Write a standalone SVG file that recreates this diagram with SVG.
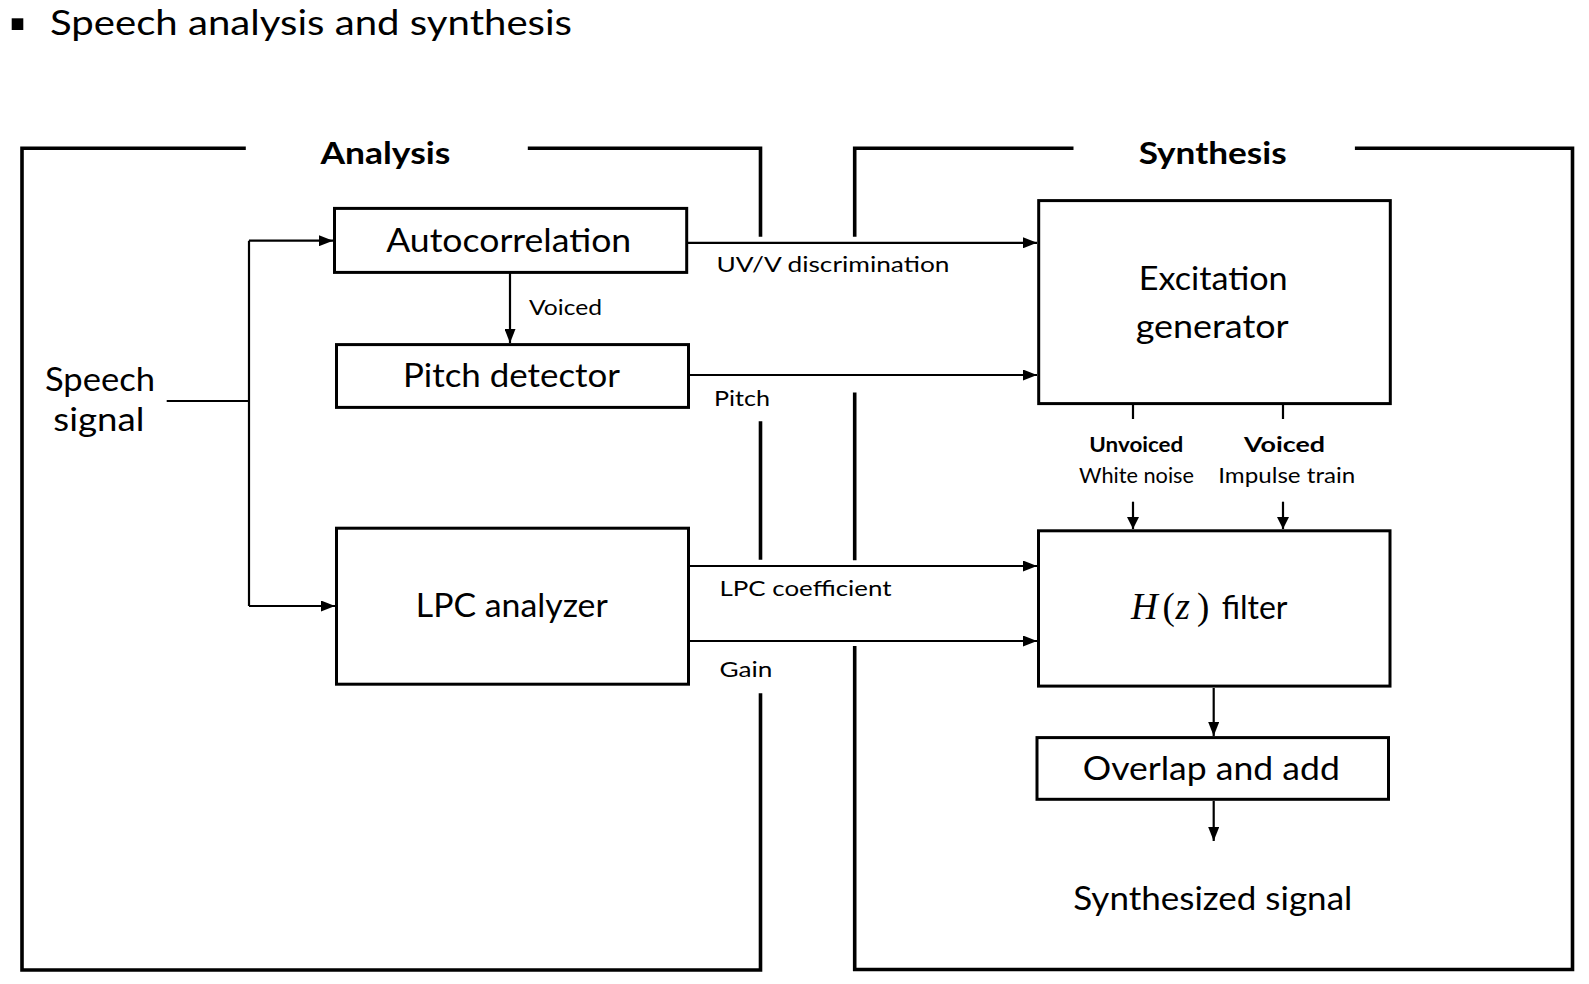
<svg xmlns="http://www.w3.org/2000/svg" width="1589" height="984" viewBox="0 0 1589 984">
  <style>
    text { font-family: Lato, "Open Sans", "Liberation Sans", sans-serif; fill: #000; }
    .title { font-size: 35px; }
    .box { fill: #fff; stroke: #000; stroke-width: 3; }
    .frame { fill: none; stroke: #000; stroke-width: 3.6; stroke-linecap: square; }
    .lbl { font-size: 32px; text-anchor: start; }
    .big { font-size: 33px; }
    .sec { font-size: 30px; font-weight: bold; }
    .small { font-size: 22px; }
    .tiny { font-size: 21px; }
    .tinyb { font-size: 20.5px; font-weight: bold; }
    .math { font-family: "Liberation Serif", "DejaVu Serif", serif; font-size: 37px; }
    .conn { fill: none; stroke: #000; stroke-width: 2.2; }
  </style>
  <defs>
    <marker id="arrow" viewBox="0 0 14 11" refX="14" refY="5.5" markerWidth="14" markerHeight="11" markerUnits="userSpaceOnUse" orient="auto">
      <path d="M0,0 L14,5.5 L0,11 z" fill="#000"/>
    </marker>
    <marker id="arrowS" viewBox="0 0 12 12" refX="12" refY="6" markerWidth="12" markerHeight="12" markerUnits="userSpaceOnUse" orient="auto">
      <path d="M0,0 L12,6 L0,12 z" fill="#000"/>
    </marker>
  </defs>
  <rect width="1589" height="984" fill="#fff"/>

  <g id="title">
    <rect x="11.7" y="18.3" width="11.6" height="11.7" fill="#000"/>
    <text class="title" x="50" y="35" textLength="522" lengthAdjust="spacingAndGlyphs">Speech analysis and synthesis</text>
  </g>

  <g id="frames">
    <path class="frame" d="M244,148.3 H22 V970 H760.5 V695"/>
    <path class="frame" d="M760.5,558 V423"/>
    <path class="frame" d="M529.6,148.3 H760.5 V235"/>
    <path class="frame" d="M1071.7,148.3 H854.7 V235"/>
    <path class="frame" d="M854.7,394.3 V558.4"/>
    <path class="frame" d="M854.7,647.7 V969.5 H1572.5 V148.3 H1356.7"/>
    <text class="sec" x="320.4" y="164.3" textLength="130" lengthAdjust="spacingAndGlyphs">Analysis</text>
    <text class="sec" x="1138.7" y="164" textLength="148" lengthAdjust="spacingAndGlyphs">Synthesis</text>
  </g>

  <g id="connectors">
    <path class="conn" d="M166.7,401 H249 M249,240.7 V606"/>
    <path class="conn" d="M249,240.7 H333" marker-end="url(#arrow)"/>
    <path class="conn" d="M249,606 H335" marker-end="url(#arrow)"/>
    <path class="conn" d="M510,273 V343" marker-end="url(#arrow)"/>
    <path class="conn" d="M688,242.8 H1037" marker-end="url(#arrow)"/>
    <path class="conn" d="M690,375 H1037" marker-end="url(#arrow)"/>
    <path class="conn" d="M690,566 H1037" marker-end="url(#arrow)"/>
    <path class="conn" d="M690,641 H1037" marker-end="url(#arrow)"/>
    <path class="conn" d="M1133,405 V419 M1283,405 V419"/>
    <path class="conn" d="M1133,501.7 V529" marker-end="url(#arrowS)"/>
    <path class="conn" d="M1283,501.7 V529" marker-end="url(#arrowS)"/>
    <path class="conn" d="M1213.7,688 V736" marker-end="url(#arrow)"/>
    <path class="conn" d="M1213.7,801 V841" marker-end="url(#arrow)"/>
    <text class="small" x="716.5" y="271.7" textLength="233" lengthAdjust="spacingAndGlyphs">UV/V discrimination</text>
    <text class="small" x="529" y="315" textLength="73" lengthAdjust="spacingAndGlyphs">Voiced</text>
    <text class="small" x="714" y="406" textLength="56" lengthAdjust="spacingAndGlyphs">Pitch</text>
    <text class="small" x="719.5" y="595.5" textLength="172" lengthAdjust="spacingAndGlyphs">LPC coefficient</text>
    <text class="small" x="719.5" y="677" textLength="53" lengthAdjust="spacingAndGlyphs">Gain</text>
    <text class="tinyb" x="1089.3" y="451.7" textLength="94" lengthAdjust="spacingAndGlyphs">Unvoiced</text>
    <text class="tiny" x="1079" y="483.3" textLength="115" lengthAdjust="spacingAndGlyphs">White noise</text>
    <text class="tinyb" x="1244" y="451.7" textLength="81" lengthAdjust="spacingAndGlyphs">Voiced</text>
    <text class="tiny" x="1218.3" y="483.3" textLength="137" lengthAdjust="spacingAndGlyphs">Impulse train</text>
  </g>

  <g id="speech-signal">
    <text class="big" x="45" y="390.5" textLength="110" lengthAdjust="spacingAndGlyphs">Speech</text>
    <text class="big" x="53.3" y="431" textLength="91" lengthAdjust="spacingAndGlyphs">signal</text>
  </g>

  <g id="autocorrelation">
    <rect class="box" x="334.5" y="208.4" width="352.2" height="64"/>
    <text class="lbl" x="386.2" y="252.3" textLength="245" lengthAdjust="spacingAndGlyphs">Autocorrelation</text>
  </g>

  <g id="pitch-detector">
    <rect class="box" x="336.5" y="344.6" width="352" height="62.8"/>
    <text class="lbl" x="403" y="387.3" textLength="217" lengthAdjust="spacingAndGlyphs">Pitch detector</text>
  </g>

  <g id="lpc-analyzer">
    <rect class="box" x="336.5" y="528.2" width="352" height="156"/>
    <text class="lbl" x="415.8" y="617" textLength="192" lengthAdjust="spacingAndGlyphs">LPC analyzer</text>
  </g>

  <g id="excitation-generator">
    <rect class="box" x="1038.7" y="200.6" width="351.6" height="203"/>
    <text class="lbl" x="1138.7" y="289.8" textLength="149" lengthAdjust="spacingAndGlyphs">Excitation</text>
    <text class="lbl" x="1135.7" y="337.5" textLength="153" lengthAdjust="spacingAndGlyphs">generator</text>
  </g>

  <g id="hz-filter">
    <rect class="box" x="1038.5" y="530.8" width="351.5" height="155.3"/>
    <text y="619.3"><tspan class="math" x="1131" font-style="italic">H</tspan><tspan class="math" x="1162.5">(</tspan><tspan class="math" x="1175.5" font-style="italic" font-size="39">z</tspan><tspan class="math" x="1197">)</tspan> <tspan class="lbl" x="1221.7">filter</tspan></text>
  </g>

  <g id="overlap-add">
    <rect class="box" x="1037" y="737.6" width="351.5" height="61.7"/>
    <text class="lbl" x="1082.8" y="779.5" textLength="257" lengthAdjust="spacingAndGlyphs">Overlap and add</text>
  </g>

  <g id="synthesized-signal">
    <text class="big" x="1073.3" y="910" textLength="279" lengthAdjust="spacingAndGlyphs">Synthesized signal</text>
  </g>
</svg>
